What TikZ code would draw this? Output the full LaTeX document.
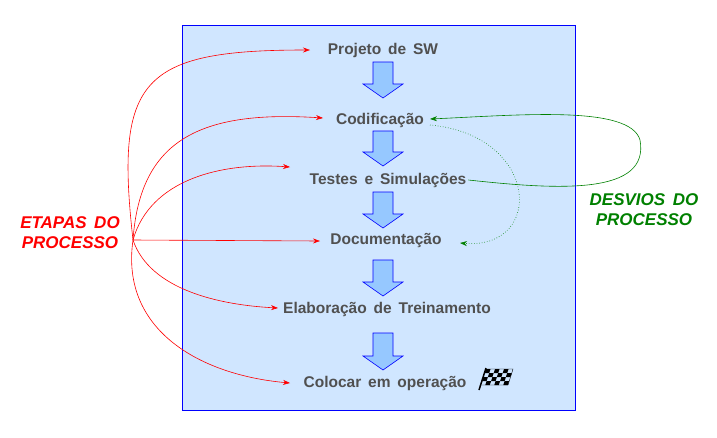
\documentclass[tikz,border=0pt]{standalone}
\usepackage{fontspec}
\setmainfont{Liberation Sans}[WordSpace=1.6]
\usetikzlibrary{arrows.meta}
\definecolor{bg}{RGB}{208,230,255}
\definecolor{txt}{RGB}{80,80,80}
\definecolor{dgreen}{RGB}{0,128,0}
\definecolor{arrfill}{RGB}{150,200,255}
\tikzset{
 x=1pt,y=-1pt,
 stage/.style={font=\bfseries\fontsize{15.5}{18}\selectfont,text=txt,inner sep=2pt},
 blk/.style={draw=blue,fill=arrfill,line width=0.6pt},
 red/.style={draw=red,-{Stealth[length=7pt,width=5pt]},line width=0.6pt},
 grn/.style={draw=dgreen,-{Stealth[length=7pt,width=5pt]},line width=0.6pt},
 lbl/.style={font=\bfseries\itshape\fontsize{17}{20}\selectfont,align=center,inner sep=0pt}
}
\begin{document}
\begin{tikzpicture}
\useasboundingbox (0,0) rectangle (717,437);
\node[draw=blue,fill=bg,line width=0.6pt,minimum width=393pt,minimum height=385pt,anchor=north west,inner sep=0pt] (box) at (182,25) {};
\node[stage] (s1) at (383,50) {Projeto de SW};
\node[stage] (s2) at (380,120) {Codificação};
\node[stage] (s3) at (388,180) {Testes e Simulações};
\node[stage] (s4) at (386,241) {Documentação};
\node[stage] (s5) at (387,309) {Elaboração de Treinamento};
\node[stage] (s6) at (385,383) {Colocar em operação};
\foreach \t/\b in {62/98,131/166,192/228,260/296,333/370}
  \draw[blk] (373,\t) -- (393,\t) -- (393,\b-14) -- (403,\b-14) -- (383,\b) -- (363,\b-14) -- (373,\b-14) -- cycle;
% flag
\begin{scope}[shift={(478,368)}]
 \foreach \i in {0,...,5} \foreach \j in {0,...,3}{
   \pgfmathsetmacro{\c}{mod(\i+\j,2)}
   \ifdim\c pt<0.5pt
   \fill (8+\i*4.5-\j*1.3,1+\j*4) -- ++(4.5,0) -- ++(-1.3,4) -- ++(-4.5,0) -- cycle;
   \fi}
 \draw[line width=0.4pt] (8,1) -- (35,1) -- (30,17) -- (3,17);
 \draw[line width=1.5pt] (1,22) -- (8,0);
\end{scope}
\node[lbl,text=red] (etapas) at (70,233) {ETAPAS DO\\PROCESSO};
\coordinate (src) at (133,240);
\draw[red] (src) .. controls (115,80) and (140,50) .. (310,50);
\draw[red] (src) .. controls (140,140) and (200,110) .. (323,118);
\draw[red] (src) .. controls (150,180) and (220,162) .. (290,167);
\draw[red] (src) -- (320,241);
\draw[red] (src) .. controls (150,290) and (220,305) .. (278,308);
\draw[red] (src) .. controls (120,330) and (200,375) .. (290,383);
\node[lbl,text=dgreen] (desvios) at (644,210) {DESVIOS DO\\PROCESSO};
\draw[grn] (s3.east) .. controls (560,190) and (650,195) .. (640,140) .. controls (630,105) and (520,115) .. (430,119);
\draw[grn,dotted] (430,125) .. controls (540,135) and (545,250) .. (460,243);
\end{tikzpicture}
\end{document}
